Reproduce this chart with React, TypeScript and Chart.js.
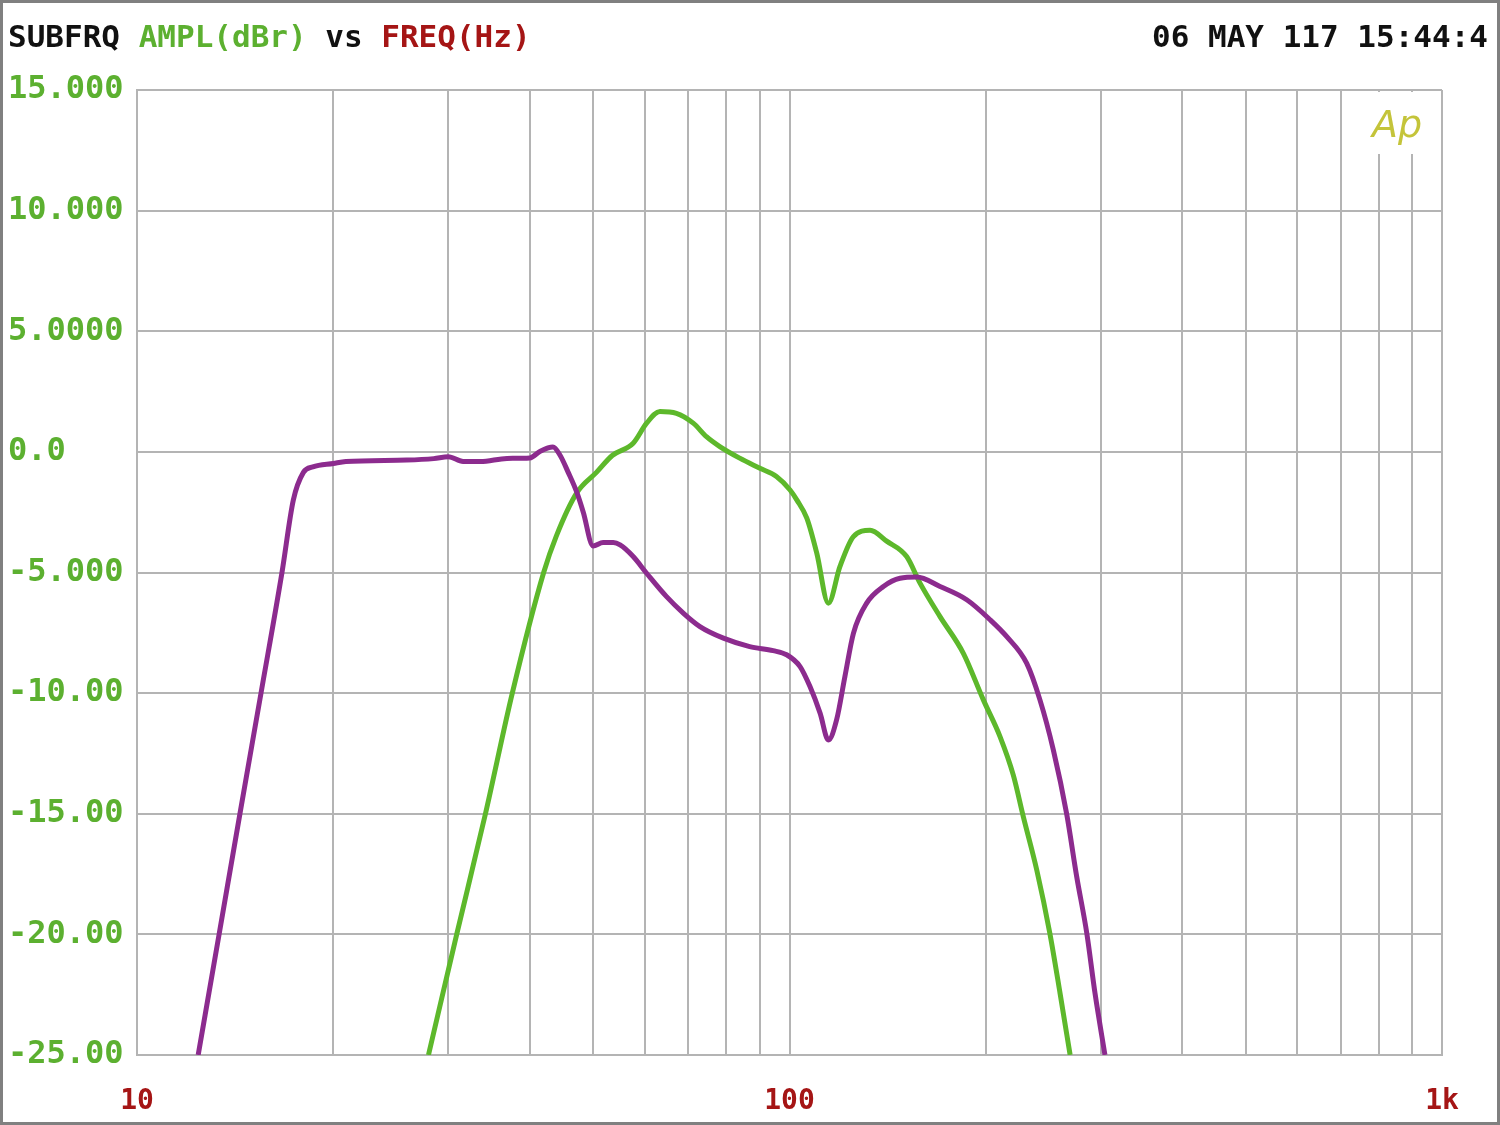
import React, { useEffect, useRef } from 'react';
import { Chart, registerables } from 'chart.js';
Chart.register(...registerables);

const purpleFreq = [12.41, 13.36, 14.38, 15.49, 16.68, 17.36, 17.99, 18.6, 20.0, 20.9, 25.9, 28.5, 30.0, 31.6, 33.6, 36.9, 40.0, 41.5, 43.4, 44.5, 45.8, 47.2, 48.3, 50.0, 51.8, 53.7, 55.0, 57.6, 60.4, 64.8, 68.8, 72.9, 79.2, 86.9, 94.4, 99.0, 103.8, 107.5, 111.4, 114.7, 118.1, 121.6, 125.3, 131.3, 139.3, 147.7, 156.7, 170.1, 186.9, 203, 215.3, 230.9, 242, 253.7, 266, 275.5, 285.5, 293.9, 304.4];
const purpleDb = [-25, -20, -15, -10, -5, -2.0, -0.85, -0.62, -0.48, -0.4, -0.34, -0.28, -0.2, -0.4, -0.4, -0.27, -0.25, 0.03, 0.2, -0.14, -0.85, -1.67, -2.5, -3.9, -3.76, -3.76, -3.86, -4.34, -5.03, -6.0, -6.69, -7.24, -7.72, -8.07, -8.24, -8.41, -8.9, -9.73, -10.83, -11.94, -11.1, -9.31, -7.52, -6.27, -5.58, -5.24, -5.19, -5.58, -6.13, -6.96, -7.66, -8.76, -10.28, -12.35, -15.02, -17.6, -19.95, -22.44, -25];

const greenFreq = [27.97, 30.9, 34.2, 37.6, 42.0, 43.9, 47.2, 50.6, 53.5, 57.6, 60.4, 63.3, 67.1, 71.2, 74.6, 78.2, 83.9, 90.1, 95.5, 100.2, 102.6, 106.3, 110.1, 114.7, 119.5, 125.3, 132.9, 140.9, 151.2, 158.5, 170.1, 184.7, 198.2, 210.2, 220.3, 228.2, 239.3, 250.6, 259.8, 269.2];
const greenDb = [-25, -20, -15, -10, -5, -3.5, -1.7, -0.85, -0.15, 0.36, 1.19, 1.67, 1.6, 1.19, 0.63, 0.22, -0.26, -0.68, -1.02, -1.58, -1.99, -2.75, -4.2, -6.27, -4.75, -3.51, -3.25, -3.7, -4.34, -5.44, -6.83, -8.35, -10.28, -11.8, -13.4, -15.12, -17.33, -19.95, -22.44, -25];

const xGridValues = [10, 20, 30, 40, 50, 60, 70, 80, 90, 100, 200, 300, 400, 500, 600, 700, 800, 900, 1000];
const xTickLabels: Record<number, string> = { 10: '10', 100: '100', 1000: '1k' };
const yTickValues = [15, 10, 5, 0, -5, -10, -15, -20, -25];
const yTickLabels = ['15.000', '10.000', '5.0000', '0.0', '-5.000', '-10.00', '-15.00', '-20.00', '-25.00'];

const headerParts = [
  { text: 'SUBFRQ ', color: '#111111' },
  { text: 'AMPL(dBr)', color: '#5cb030' },
  { text: ' vs ', color: '#111111' },
  { text: 'FREQ(Hz)', color: '#a51515' },
];
const dateText = '06 MAY 117 15:44:4';
const logoText = 'Ap';

const PURPLE = '#8c2b8e';
const GREEN = '#5db82b';
const GRID = '#b4b4b4';

const decorPlugin = {
  id: 'decor',
  beforeDatasetsDraw(chart: any) {
    const ctx = chart.ctx;
    const area = chart.chartArea;
    ctx.save();
    ctx.fillStyle = '#ffffff';
    ctx.fillRect(area.right - 82, area.top + 2, 72, 62);
    ctx.fillStyle = '#c4c43a';
    ctx.font = 'italic 38px "DejaVu Sans"';
    ctx.textAlign = 'left';
    ctx.textBaseline = 'alphabetic';
    ctx.fillText(logoText, area.right - 70, area.top + 47);
    ctx.restore();
  },
  afterDraw(chart: any) {
    const ctx = chart.ctx;
    ctx.save();
    ctx.font = 'bold 31px "DejaVu Sans Mono"';
    ctx.textBaseline = 'middle';
    ctx.textAlign = 'left';
    let x = 8;
    for (const p of headerParts) {
      ctx.fillStyle = p.color;
      ctx.fillText(p.text, x, 39);
      x += ctx.measureText(p.text).width;
    }
    ctx.fillStyle = '#111111';
    ctx.textAlign = 'right';
    ctx.fillText(dateText, 1488, 39);
    ctx.strokeStyle = '#808080';
    ctx.lineWidth = 3;
    ctx.strokeRect(1.5, 1.5, chart.width - 3, chart.height - 3);
    ctx.restore();
  },
};

export default function App() {
  const ref = useRef<HTMLCanvasElement | null>(null);
  useEffect(() => {
    document.body.style.margin = '0';
    const canvas = ref.current;
    if (!canvas) return;
    const chart = new Chart(canvas, {
      type: 'line',
      data: {
        datasets: [
          {
            label: 'purple',
            data: purpleFreq.map((f, i) => ({ x: f, y: purpleDb[i] })),
            borderColor: PURPLE,
            borderWidth: 5,
            pointRadius: 0,
            fill: false,
            cubicInterpolationMode: 'monotone',
          },
          {
            label: 'green',
            data: greenFreq.map((f, i) => ({ x: f, y: greenDb[i] })),
            borderColor: GREEN,
            borderWidth: 5,
            pointRadius: 0,
            fill: false,
            cubicInterpolationMode: 'monotone',
          },
        ],
      },
      options: {
        animation: false,
        responsive: false,
        maintainAspectRatio: false,
        layout: { padding: { left: 8, top: 90, right: 58, bottom: 0 } },
        plugins: { legend: { display: false }, tooltip: { enabled: false }, title: { display: false } },
        scales: {
          x: {
            type: 'logarithmic',
            min: 10,
            max: 1000,
            afterBuildTicks: (scale: any) => {
              scale.ticks = xGridValues.map((v) => ({ value: v }));
            },
            afterFit: (scale: any) => {
              scale.height = 70;
            },
            grid: { color: GRID, lineWidth: 2, drawTicks: false },
            border: { display: true, color: GRID, width: 2 },
            ticks: {
              autoSkip: false,
              maxRotation: 0,
              padding: 30,
              color: '#a51515',
              font: { family: '"DejaVu Sans Mono"', size: 28, weight: 'bold' },
              callback: (v: any) => xTickLabels[Number(v)] ?? '',
            },
          },
          y: {
            type: 'linear',
            min: -25,
            max: 15,
            afterBuildTicks: (scale: any) => {
              scale.ticks = yTickValues.map((v) => ({ value: v }));
            },
            afterFit: (scale: any) => {
              scale.width = 129;
            },
            grid: { color: GRID, lineWidth: 2, drawTicks: false },
            border: { display: true, color: GRID, width: 2 },
            ticks: {
              crossAlign: 'far',
              color: '#5cb030',
              font: { family: '"DejaVu Sans Mono"', size: 32, weight: 'bold' },
              callback: (v: any) => {
                const i = yTickValues.indexOf(Number(v));
                return i >= 0 ? yTickLabels[i] : '';
              },
            },
          },
        },
      },
      plugins: [decorPlugin],
    } as any);
    return () => chart.destroy();
  }, []);
  return (
    <div style={{ width: 1500, height: 1125, background: '#ffffff' }}>
      <canvas ref={ref} width={1500} height={1125} style={{ display: 'block', width: 1500, height: 1125 }} />
    </div>
  );
}
